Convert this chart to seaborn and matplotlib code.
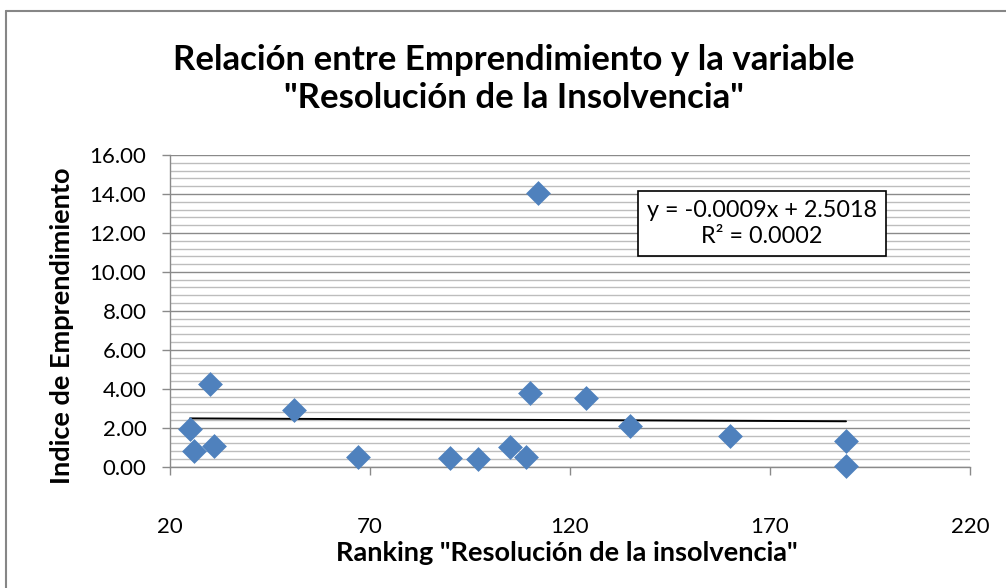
import numpy as np
import pandas as pd
import matplotlib
matplotlib.use("Agg")
import matplotlib.pyplot as plt
from matplotlib.ticker import MultipleLocator, FormatStrFormatter
from matplotlib.lines import Line2D
import seaborn as sns

# ---- data ----
ranking = [25, 26, 30, 31, 51, 67, 90, 97, 105, 109, 110, 112, 124, 135, 160, 189, 189]
indice = [1.95, 0.82, 4.27, 1.08, 2.93, 0.51, 0.43, 0.40, 1.03, 0.48, 3.79, 14.06, 3.51, 2.11, 1.59, 1.30, 0.03]
trend_slope = -0.0009
trend_intercept = 2.5018
r_squared = 0.0002
x_ticks = [20, 70, 120, 170, 220]
y_ticks = [0, 2, 4, 6, 8, 10, 12, 14, 16]

title_text = 'Relación entre Emprendimiento y la variable\n"Resolución de la Insolvencia"'
xlabel_text = 'Ranking "Resolución de la insolvencia"'
ylabel_text = 'Indice de Emprendimiento'
eq_text = "y = -0.0009x + 2.5018\nR² = 0.0002"

df = pd.DataFrame({"x": ranking, "y": indice})
trend_x = [min(ranking), max(ranking)]
trend_df = pd.DataFrame({"x": trend_x,
                         "y": [trend_slope * v + trend_intercept for v in trend_x]})

sns.set_theme(style="white")
plt.rcParams['font.family'] = ['Lato', 'DejaVu Sans']
plt.rcParams['text.color'] = 'black'
plt.rcParams['axes.labelcolor'] = 'black'

W, H = 1006, 588
fig = plt.figure(figsize=(W / 100, H / 100), dpi=100)
ax = fig.add_axes([170 / W, 1 - 466.7 / H, 800 / W, 311.7 / H])

ax.set_xlim(20, 220)
ax.set_ylim(0, 16)
ax.yaxis.set_minor_locator(MultipleLocator(0.4))
ax.yaxis.set_major_formatter(FormatStrFormatter("%.2f"))
ax.set_xticks(x_ticks)
ax.set_yticks(y_ticks)

ax.grid(False)
ax.yaxis.grid(True, which="major", color="#8a8a8a", lw=1.0, zorder=0)
ax.yaxis.grid(True, which="minor", color="#bdbdbd", lw=1.0, zorder=0)
ax.set_axisbelow(True)

for s in ["top", "right"]:
    ax.spines[s].set_visible(False)
for s in ["left", "bottom"]:
    ax.spines[s].set_color("#8a8a8a")
    ax.spines[s].set_linewidth(1.0)

ax.tick_params(axis="both", which="major", direction="out", length=6, width=1.0,
               color="#8a8a8a", labelsize=16, labelcolor="black")
ax.tick_params(axis="y", which="minor", length=0)
ax.tick_params(axis="y", pad=11)
ax.tick_params(axis="x", pad=30)
ax.tick_params(axis="x", bottom=True)
ax.tick_params(axis="y", left=True)

sns.lineplot(data=trend_df, x="x", y="y", color="black", lw=1.4, ax=ax, zorder=3)
sns.scatterplot(data=df, x="x", y="y", marker="D", s=160, color="#4F81BD",
                edgecolor="#4F81BD", linewidth=0, ax=ax, zorder=4, clip_on=False)

ax.set_xlabel("")
ax.set_ylabel("")

ax.text(0.74, 0.78, eq_text, transform=ax.transAxes, ha="center", va="center",
        fontsize=16.8, linespacing=1.25, zorder=5, color="black",
        bbox=dict(boxstyle="square,pad=0.4", fc="white", ec="black", lw=1.2))

fig.text(514 / W, 1 - 79 / H, title_text, ha="center", va="center",
         fontsize=25, fontweight="bold", linespacing=1.25, color="black")
fig.text(567 / W, 1 - 553 / H, xlabel_text, ha="center", va="center",
         fontsize=19.5, fontweight="bold", color="black")
fig.text(62 / W, 1 - 326 / H, ylabel_text, ha="center", va="center",
         rotation=90, fontsize=19.5, fontweight="bold", color="black")

# chart border (Excel chart area)
fig.add_artist(Line2D([6 / W, 1.0], [1 - 11 / H, 1 - 11 / H], transform=fig.transFigure,
                      color="#868686", lw=1.5))
fig.add_artist(Line2D([6 / W, 6 / W], [0.0, 1 - 11 / H], transform=fig.transFigure,
                      color="#868686", lw=1.5))

fig.savefig("out.png", dpi=100, facecolor="white")
